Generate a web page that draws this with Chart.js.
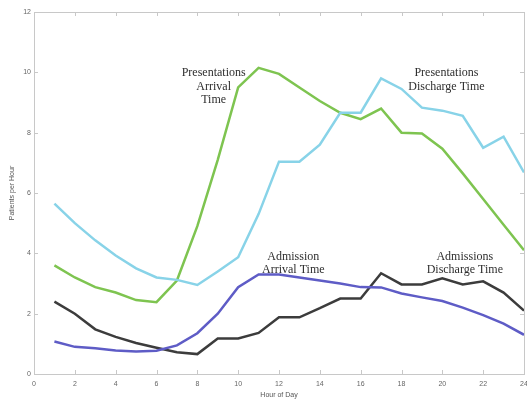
<!DOCTYPE html>
<html>
<head>
<meta charset="utf-8">
<script src="https://cdn.jsdelivr.net/npm/chart.js@4"></script>
<style>
  html, body { margin: 0; padding: 0; background: #fff; }
  #wrap { width: 527px; height: 399px; }
</style>
</head>
<body>
<div id="wrap"><canvas id="chartCanvas" width="527" height="399"></canvas></div>
<script>
// horas del dia
const hours = [1, 2, 3, 4, 5, 6, 7, 8, 9, 10, 11, 12, 13, 14, 15, 16, 17, 18, 19, 20, 21, 22, 23, 24];

// series (pacientes por hora)
const presentacionesLlegada = [3.6, 3.2, 2.88, 2.7, 2.45, 2.38, 3.1, 4.9, 7.1, 9.5, 10.15, 9.95, 9.5, 9.05, 8.66, 8.45, 8.8, 8.0, 7.97, 7.47, 6.65, 5.8, 4.95, 4.1];
const presentacionesAlta = [5.65, 5.0, 4.43, 3.93, 3.5, 3.2, 3.12, 2.95, 3.4, 3.87, 5.3, 7.04, 7.04, 7.6, 8.66, 8.66, 9.8, 9.45, 8.83, 8.73, 8.56, 7.5, 7.87, 6.68];
const admisionLlegada = [1.08, 0.9, 0.85, 0.78, 0.75, 0.77, 0.95, 1.35, 2.0, 2.88, 3.3, 3.3, 3.2, 3.1, 3.0, 2.88, 2.87, 2.67, 2.54, 2.42, 2.2, 1.95, 1.67, 1.3];
const admisionAlta = [2.4, 2.0, 1.48, 1.23, 1.03, 0.87, 0.72, 0.66, 1.18, 1.18, 1.36, 1.88, 1.88, 2.18, 2.5, 2.5, 3.34, 2.97, 2.97, 3.17, 2.97, 3.07, 2.7, 2.1];

// ticks
const xTicks = [0, 2, 4, 6, 8, 10, 12, 14, 16, 18, 20, 22, 24];
const yTicks = [0, 2, 4, 6, 8, 10, 12];

// etiquetas dentro del grafico
const notas = [
  { lineas: ['Presentations', 'Arrival', 'Time'], x: 8.8, y: 9.98 },
  { lineas: ['Presentations', 'Discharge Time'], x: 20.2, y: 9.98 },
  { lineas: ['Admission', 'Arrival Time'], x: 12.7, y: 3.9 },
  { lineas: ['Admissions', 'Discharge Time'], x: 21.1, y: 3.9 },
];

const toPoints = (vals) => hours.map((h, i) => ({ x: h, y: vals[i] }));

const series = [
  { label: 'Presentations Discharge Time', data: presentacionesAlta, color: '#88d3e8' },
  { label: 'Presentations Arrival Time', data: presentacionesLlegada, color: '#7ec450' },
  { label: 'Admission Arrival Time', data: admisionLlegada, color: '#5e5cc6' },
  { label: 'Admissions Discharge Time', data: admisionAlta, color: '#3c3c3c' },
];

const fuenteEjes = { size: 7, family: 'Arial, "Liberation Sans", sans-serif' };

// marco y ticks hacia adentro
const marcoPlugin = {
  id: 'marco',
  afterDatasetsDraw(chart) {
    const { ctx, chartArea: a, scales } = chart;
    ctx.save();
    ctx.strokeStyle = '#c8c8c8';
    ctx.lineWidth = 1;
    ctx.strokeRect(a.left + 0.5, a.top + 0.5, a.right - a.left, a.bottom - a.top);
    ctx.beginPath();
    xTicks.forEach((t) => {
      const px = Math.round(scales.x.getPixelForValue(t)) + 0.5;
      ctx.moveTo(px, a.bottom); ctx.lineTo(px, a.bottom - 4);
      ctx.moveTo(px, a.top); ctx.lineTo(px, a.top + 4);
    });
    yTicks.forEach((t) => {
      const py = Math.round(scales.y.getPixelForValue(t)) + 0.5;
      ctx.moveTo(a.left, py); ctx.lineTo(a.left + 4, py);
      ctx.moveTo(a.right, py); ctx.lineTo(a.right - 4, py);
    });
    ctx.stroke();

    // textos
    ctx.fillStyle = '#2e2e2e';
    ctx.font = '12px "Liberation Serif", "DejaVu Serif", serif';
    ctx.textAlign = 'center';
    ctx.textBaseline = 'middle';
    notas.forEach((n) => {
      const cx = scales.x.getPixelForValue(n.x);
      const cy = scales.y.getPixelForValue(n.y);
      n.lineas.forEach((l, i) => ctx.fillText(l, cx, cy + i * 13.5));
    });
    ctx.restore();
  },
};

const chartCanvas = document.getElementById('chartCanvas');
const chart = new Chart(chartCanvas.getContext('2d'), {
  type: 'line',
  data: {
    datasets: series.map((s) => ({
      label: s.label,
      data: toPoints(s.data),
      borderColor: s.color,
      backgroundColor: s.color,
      borderWidth: 2.5,
      pointRadius: 0,
      tension: 0,
      fill: false,
    })),
  },
  options: {
    responsive: false,
    animation: false,
    layout: { padding: { top: 12, right: 3, left: 0, bottom: 0 } },
    plugins: { legend: { display: false }, tooltip: { enabled: false } },
    scales: {
      x: {
        type: 'linear',
        min: 0,
        max: 24,
        afterBuildTicks: (s) => { s.ticks = xTicks.map((v) => ({ value: v })); },
        afterFit: (s) => { s.height = 25; s.paddingRight = 0; s.paddingLeft = 0; },
        grid: { display: false, drawTicks: false },
        border: { display: false },
        ticks: { color: '#666', font: fuenteEjes, padding: 6, maxRotation: 0 },
        title: { display: true, text: 'Hour of Day', color: '#555', font: fuenteEjes, padding: { top: 0, bottom: 0 } },
      },
      y: {
        min: 0,
        max: 12,
        afterBuildTicks: (s) => { s.ticks = yTicks.map((v) => ({ value: v })); },
        afterFit: (s) => { s.width = 34; s.paddingTop = 0; s.paddingBottom = 0; },
        grid: { display: false, drawTicks: false },
        border: { display: false },
        ticks: { color: '#666', font: fuenteEjes, padding: 3 },
        title: { display: true, text: 'Patients per Hour', color: '#555', font: fuenteEjes, padding: { top: 8, bottom: 0 } },
      },
    },
  },
  plugins: [marcoPlugin],
});
</script>
</body>
</html>
